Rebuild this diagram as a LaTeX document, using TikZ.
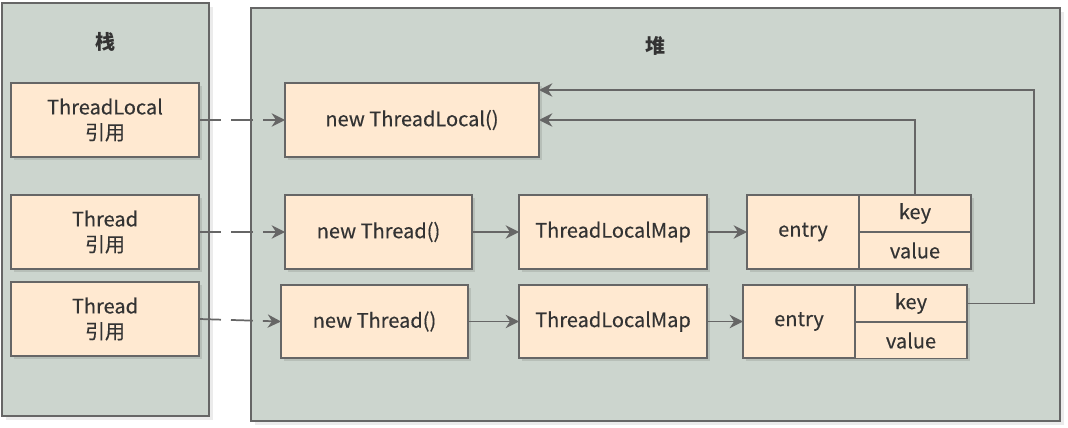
\documentclass[tikz,border=0pt]{standalone}
\usepackage{fontspec}
\setmainfont{Noto Sans CJK SC}
\newfontfamily\labelfont[FakeBold=0.35]{Noto Sans CJK SC}
\usetikzlibrary{arrows.meta,shadows}
\definecolor{panelgray}{HTML}{CCD5CE}
\definecolor{boxorange}{HTML}{FFE9D1}
\definecolor{linegray}{HTML}{666666}
\definecolor{textgray}{HTML}{333333}

\begin{document}
\begin{tikzpicture}[x=0.75pt, y=-0.75pt,
    every node/.style={font=\labelfont\fontsize{15}{19}\selectfont, text=textgray, inner sep=0pt, outer sep=0pt},
    sz/.style 2 args={minimum width=#1*0.75pt, minimum height=#2*0.75pt},
    panel/.style={draw=linegray, line width=1.3pt, fill=panelgray,
        drop shadow={shadow xshift=3pt, shadow yshift=-3pt, fill=black, opacity=0.08}},
    box/.style={draw=linegray, line width=1.3pt, fill=boxorange, align=center,
        drop shadow={shadow xshift=2.5pt, shadow yshift=-2.5pt, fill=black, opacity=0.1}},
    cell/.style={draw=linegray, line width=1.3pt, fill=boxorange},
    title/.style={font=\fontsize{15}{18}\selectfont\bfseries},
    link/.style={draw=linegray, line width=1.3pt, -{Stealth[length=10pt,width=10pt]}},
    reflink/.style={link, dash pattern=on 16.5pt off 7.5pt}]
    \useasboundingbox (0,0) rectangle (1068,428);

    % panels
    \node[panel, sz={207}{413}] (stack) at (105.5,209.5) {};
    \node[panel, sz={809}{413}] (heap) at (655.5,214.5) {};
    \node[title] (stacktitle) at (105,42) {栈};
    \node[title] (heaptitle) at (655,46) {堆};

    % stack references
    \node[box, sz={188}{74}] (refTL) at (105,120) {ThreadLocal\\引用};
    \node[box, sz={188}{74}] (refT1) at (105,232) {Thread\\引用};
    \node[box, sz={188}{74}] (refT2) at (105,319) {Thread\\引用};

    % heap objects
    \node[box, sz={254}{74}] (newTL) at (412,120) {new ThreadLocal()};
    \node[box, sz={187}{74}] (newT1) at (378.5,232) {new Thread()};
    \node[box, sz={188}{74}] (map1) at (613,232) {ThreadLocalMap};
    \node[box, sz={224}{74}] (entrybg1) at (859,232) {};
    \node[cell, sz={112}{74}] (entry1) at (803,232) {entry};
    \node[cell, sz={112}{37}] (key1) at (915,213.5) {key};
    \node[cell, sz={112}{37}] (value1) at (915,250.5) {value};

    \node[box, sz={187}{73}] (newT2) at (374.5,321.5) {new Thread()};
    \node[box, sz={188}{73}] (map2) at (613,321.5) {ThreadLocalMap};
    \node[box, sz={224}{73}] (entrybg2) at (855,321.5) {};
    \node[cell, sz={112}{73}] (entry2) at (799,321.5) {entry};
    \node[cell, sz={112}{37}] (key2) at (911,303.5) {key};
    \node[cell, sz={112}{36}] (value2) at (911,340.5) {value};

    % references from the stack
    \draw[reflink] (refTL.east) -- (newTL.west);
    \draw[reflink] (refT1.east) -- (newT1.west);
    \draw[reflink] (refT2.east) -- (newT2.west);

    % chains in the heap
    \draw[link] (newT1) -- (map1);
    \draw[link] (map1) -- (entry1);
    \draw[link] (newT2) -- (map2);
    \draw[link] (map2) -- (entry2);

    % keys back to the ThreadLocal
    \coordinate (loopcorner) at (1034,90);
    \draw[link] (key1.north) |- (newTL.east);
    \draw[link] (key2.east) -| (loopcorner) -- (newTL.east |- loopcorner);
\end{tikzpicture}
\end{document}
